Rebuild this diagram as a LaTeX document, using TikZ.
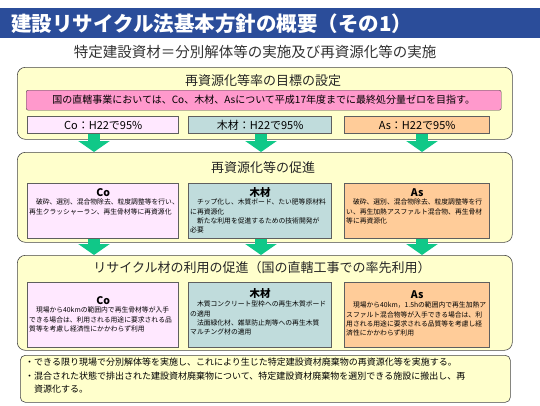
\documentclass[tikz,border=0pt]{standalone}
\usepackage{fontspec}
\setmainfont{Noto Sans CJK JP}
\usetikzlibrary{positioning,arrows.meta}

\definecolor{titleblue}{RGB}{43,77,154}
\definecolor{panelyellow}{RGB}{255,255,204}
\definecolor{barpink}{RGB}{255,153,204}
\definecolor{copink}{RGB}{255,232,255}
\definecolor{woodblue}{RGB}{192,220,220}
\definecolor{asorange}{RGB}{255,204,153}
\definecolor{flowgreen}{RGB}{16,200,136}
\definecolor{edgegray}{RGB}{70,70,70}
\definecolor{boxgray}{RGB}{95,95,95}

\begin{document}
\begin{tikzpicture}[
      x = 1pt,
      y = -1pt,
      panel/.style = {draw=edgegray, fill=panelyellow, rounded corners=8pt,
        anchor=north west, inner sep=0pt, line width=0.6pt},
      matbox/.style = {draw=boxgray, line width=1.4pt, anchor=north west, inner sep=0pt},
      heading/.style = {font=\fontsize{13}{13}\selectfont, text=black!85, inner sep=0pt},
      mattitle/.style = {font=\bfseries\fontsize{10.5}{10.5}\selectfont, inner sep=0pt},
      body/.style = {font=\fontsize{6.8}{9.3}\selectfont, align=left,
        anchor=north west, inner sep=0pt},
      flow/.style = {draw=flowgreen, line width=12pt,
        -{Triangle[length=11pt, width=31pt]}},
  ]

  \useasboundingbox (0,0) rectangle (540,405);

  % title
  \node[fill=titleblue, anchor=north west, minimum width=540pt, minimum height=30pt,
    inner sep=0pt] (titlebar) at (0,8) {};
  \node[anchor=west, text=white, inner sep=0pt,
    font=\bfseries\fontsize{20.5}{20.5}\selectfont] (title) at (11,23.5)
    {建設リサイクル法基本方針の概要（その1）};
  \node[font=\fontsize{14.5}{14.5}\selectfont, text=black!80, inner sep=0pt]
    (subtitle) at (255,52) {特定建設資材＝分別解体等の実施及び再資源化等の実施};

  % targets
  \node[panel, minimum width=495pt, minimum height=72pt] (goals) at (17,67) {};
  \node[heading] (goalshd) at (263,81) {再資源化等率の目標の設定};
  \node[draw=edgegray, fill=barpink, rounded corners=2pt, anchor=north west,
    minimum width=475pt, minimum height=20pt, inner sep=0pt,
    font=\fontsize{10}{10}\selectfont] (zero) at (26,90)
    {国の直轄事業においては、Co、木材、Asについて平成17年度までに最終処分量ゼロを目指す。};
  \node[matbox, fill=copink, minimum width=151pt, minimum height=17pt,
    font=\fontsize{11}{11}\selectfont] (goalco) at (27,116) {Co：H22で95\%};
  \node[matbox, fill=woodblue, minimum width=143pt, minimum height=17pt,
    font=\fontsize{11}{11}\selectfont] (goalwd) at (188,116) {木材：H22で95\%};
  \node[matbox, fill=asorange, minimum width=145pt, minimum height=17pt,
    font=\fontsize{11}{11}\selectfont] (goalas) at (344,116) {As：H22で95\%};

  % recycling
  \node[panel, minimum width=495pt, minimum height=90pt] (promote) at (17,152) {};
  \node[heading] (promotehd) at (263,168) {再資源化等の促進};

  \node[matbox, fill=copink, minimum width=151pt, minimum height=55pt] (recyco) at (27,183) {};
  \node[mattitle] (recycohd) at ([yshift=-10pt]recyco.north) {Co};
  \node[body] (recycotx) at ([xshift=2pt, yshift=-16pt]recyco.north west)
    {　破砕、選別、混合物除去、粒度調整等を行い、\\再生クラッシャーラン、再生骨材等に再資源化};

  \node[matbox, fill=woodblue, minimum width=143pt, minimum height=55pt] (recywd) at (188,183) {};
  \node[mattitle] (recywdhd) at ([yshift=-10pt]recywd.north) {木材};
  \node[body] (recywdtx) at ([xshift=2pt, yshift=-16pt]recywd.north west)
    {　チップ化し、木質ボード、たい肥等原材料\\に再資源化\\　新たな利用を促進するための技術開発が\\必要};

  \node[matbox, fill=asorange, minimum width=145pt, minimum height=55pt] (recyas) at (344,183) {};
  \node[mattitle] (recyashd) at ([yshift=-10pt]recyas.north) {As};
  \node[body] (recyastx) at ([xshift=2pt, yshift=-16pt]recyas.north west)
    {　破砕、選別、混合物除去、粒度調整等を行\\い、再生加熱アスファルト混合物、再生骨材\\等に再資源化};

  % use of recycled materials
  \node[panel, minimum width=495pt, minimum height=95pt] (reuse) at (17,255) {};
  \node[heading] (reusehd) at (262,268) {リサイクル材の利用の促進（国の直轄工事での率先利用）};

  \node[matbox, fill=copink, minimum width=151pt, minimum height=65pt] (useco) at (27,282) {};
  \node[mattitle] (usecohd) at ([yshift=-19pt]useco.north) {Co};
  \node[body] (usecotx) at ([xshift=2pt, yshift=-25pt]useco.north west)
    {　現場から40kmの範囲内で再生骨材等が入手\\できる場合は、利用される用途に要求される品\\質等を考慮し経済性にかかわらず利用};

  \node[matbox, fill=woodblue, minimum width=143pt, minimum height=65pt] (usewd) at (188,282) {};
  \node[mattitle] (usewdhd) at ([yshift=-12pt]usewd.north) {木材};
  \node[body] (usewdtx) at ([xshift=2pt, yshift=-19pt]usewd.north west)
    {　木質コンクリート型枠への再生木質ボード\\の適用\\　法面緑化材、雑草防止剤等への再生木質\\マルチング材の適用};

  \node[matbox, fill=asorange, minimum width=145pt, minimum height=65pt] (useas) at (344,282) {};
  \node[mattitle] (useashd) at ([yshift=-13pt]useas.north) {As};
  \node[body] (useastx) at ([xshift=2pt, yshift=-20pt]useas.north west)
    {　現場から40km，1.5hの範囲内で再生加熱ア\\スファルト混合物等が入手できる場合は、利\\用される用途に要求される品質等を考慮し経\\済性にかかわらず利用};

  % notes
  \node[panel, rounded corners=5pt, minimum width=490pt, minimum height=47pt] (notes) at (20,355) {};
  \node[body, font=\fontsize{9}{13.5}\selectfont] (notestx) at (25,358)
    {・できる限り現場で分別解体等を実施し、これにより生じた特定建設資材廃棄物の再資源化等を実施する。\\
     ・混合された状態で排出された建設資材廃棄物について、特定建設資材廃棄物を選別できる施設に搬出し、再\\
     　資源化する。};

  % arrows
  \coordinate (colane) at (94,0);
  \coordinate (wdlane) at (261,0);
  \coordinate (aslane) at (422,0);
  \draw[flow] (goalco.south -| colane) -- (promote.north -| colane);
  \draw[flow] (goalwd.south -| wdlane) -- (promote.north -| wdlane);
  \draw[flow] (goalas.south -| aslane) -- (promote.north -| aslane);
  \draw[flow] (recyco.south -| colane) -- (reuse.north -| colane);
  \draw[flow] (recywd.south -| wdlane) -- (reuse.north -| wdlane);
  \draw[flow] (recyas.south -| aslane) -- (reuse.north -| aslane);

\end{tikzpicture}
\end{document}
